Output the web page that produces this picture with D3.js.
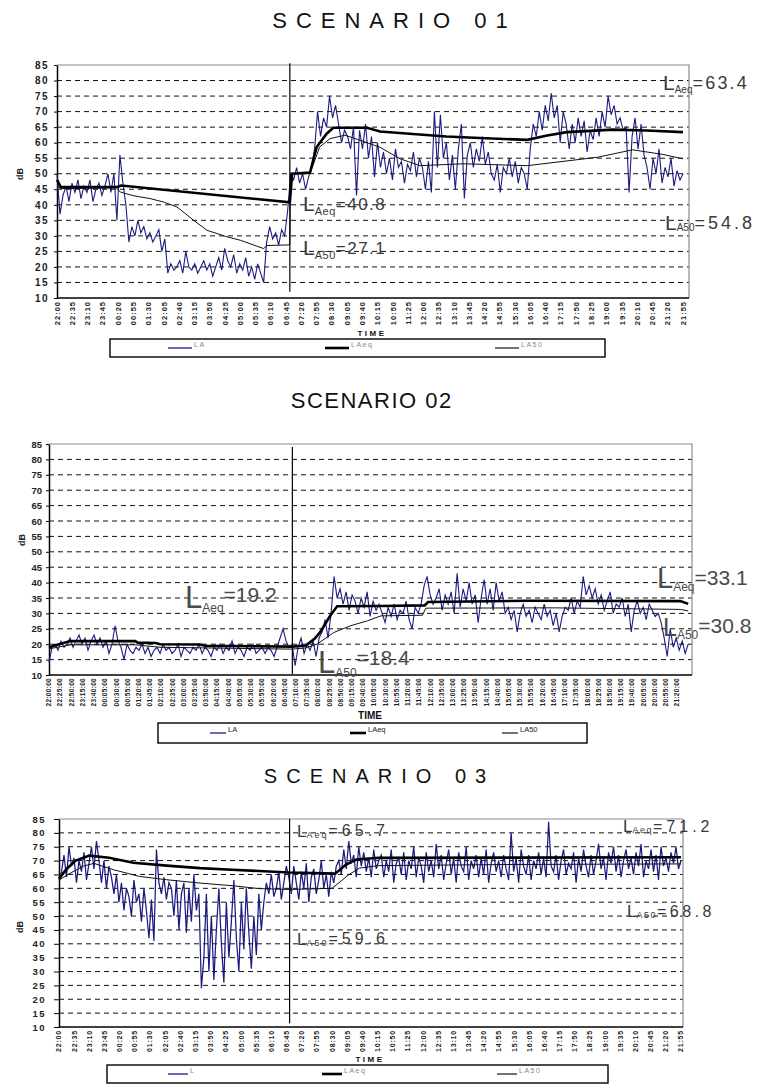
<!DOCTYPE html>
<html>
<head>
<meta charset="utf-8">
<script src="https://cdn.jsdelivr.net/npm/d3@7"></script>
<style>
  body { margin: 0; background: #fff; }
  svg { display: block; font-family: "Liberation Sans", Arial, sans-serif; }
</style>
</head>
<body>
<svg id="chart" width="761" height="1084"></svg>
<script>
// ---------------- data ----------------
const dbTicks = [10, 15, 20, 25, 30, 35, 40, 45, 50, 55, 60, 65, 70, 75, 80, 85];

// category labels (every 35 min) for scenarios 01 and 03
const clock35 = ["22:00","22:35","23:10","23:45","00:20","00:55","01:30","02:05","02:40","03:15",
  "03:50","04:25","05:00","05:35","06:10","06:45","07:20","07:55","08:30","09:05",
  "09:40","10:15","10:50","11:25","12:00","12:35","13:10","13:45","14:20","14:55",
  "15:30","16:05","16:40","17:15","17:50","18:25","19:00","19:35","20:10","20:45",
  "21:20","21:55"];

// category labels (every 25 min) for scenario 02
const clock25 = ["22:00:00","22:25:00","22:50:00","23:15:00","23:40:00","00:05:00","00:30:00","00:55:00",
  "01:20:00","01:45:00","02:10:00","02:35:00","03:00:00","03:25:00","03:50:00","04:15:00","04:40:00",
  "05:05:00","05:30:00","05:55:00","06:20:00","06:45:00","07:10:00","07:35:00","08:00:00","08:25:00",
  "08:50:00","09:15:00","09:40:00","10:05:00","10:30:00","10:55:00","11:20:00","11:45:00","12:10:00",
  "12:35:00","13:00:00","13:25:00","13:50:00","14:15:00","14:40:00","15:05:00","15:30:00","15:55:00",
  "16:20:00","16:45:00","17:10:00","17:35:00","18:00:00","18:25:00","18:50:00","19:15:00","19:40:00",
  "20:05:00","20:30:00","20:55:00","21:20:00"];

// period summary levels (dB)
const s1NightLaeq = 40.8, s1NightLa50 = 27.1, s1DayLaeq = 63.4, s1DayLa50 = 54.8;
const s2NightLaeq = 19.2, s2NightLa50 = 18.4, s2DayLaeq = 33.1, s2DayLa50 = 30.8;
const s3NightLaeq = 65.7, s3NightLa50 = 59.6, s3DayLaeq = 71.2, s3DayLa50 = 68.8;

// start of the day period, in label slots
const s1DayStart = 15.25, s2DayStart = 21.7, s3DayStart = 15.2;

// instantaneous LA, equally spaced samples
const s1La = [50,37,43,46,41,47,44,48,42,46,44,48,41,45,47,43,46,50,44,50,
  35,56,47,40,
  28,33,30,35,31,33,29,31,28,30,32,25,29,
  18,21,19,20,22,18,25,20,19,21,18,20,22,19,21,17,20,23,19,26,22,20,24,18,21,19,23,17,20,16,21,18,15,
  28,33,29,31,27,32,30,38,
  50,48,52,47,50,45,49,
  52,58,70,62,68,65,75,68,72,
  66,60,64,62,58,65,43,64,58,66,55,62,49,60,52,
  57,50,55,48,58,52,54,47,53,51,57,49,55,52,45,54,44,
  70,52,69,55,
  60,48,56,45,58,
  66,42,
  56,60,52,58,54,62,53,57,50,
  48,53,44,52,50,55,49,54,47,52,50,45,
  58,
  66,62,70,64,72,67,76,68,72,60,70,66,
  58,66,60,68,62,67,57,64,61,
  68,62,70,65,75,69,72,66,68,
  64,65,
  44,62,68,58,66,56,
  52,45,55,50,58,47,52,49,55,46,51,48,50];

const s2La = [14,19,
  20,18,21,19,20,22,19,21,23,20,22,18,21,23,20,22,19,21,17,20,
  26,21,
  19,15,20,18,17,19,18,20,17,19,16,18,19,17,20,18,19,17,18,20,16,19,18,17,19,18,20,17,19,18,
  16,19,18,20,17,19,18,21,17,19,18,16,19,18,20,17,18,19,17,19,18,16,19,22,25,21,
  19,20,13,19,22,17,20,18,21,16,22,
  24,28,22,30,42,35,
  38,33,37,31,36,34,30,35,32,37,29,34,31,33,
  30,27,32,29,33,28,31,30,34,28,25,32,30,33,
  39,42,36,33,
  35,38,31,36,33,37,30,43,
  32,38,34,40,33,36,27,
  35,41,33,38,31,40,34,37,30,
  32,28,31,24,30,33,29,31,27,32,30,28,33,29,31,26,30,24,29,32,
  31,35,30,34,32,
  42,36,39,35,
  38,33,36,31,34,37,30,33,32,35,29,33,24,31,34,30,32,28,33,31,29,30,
  27,22,16,25,
  19,22,18,21,17,20];

const s3La = [63,66,
  72,64,75,68,71,62,70,66,73,63,69,75,67,77,70,
  62,70,60,68,64,
  58,65,55,62,52,60,57,50,63,55,58,48,60,52,42,56,
  41,74,
  62,58,64,56,62,60,50,63,45,58,62,44,
  60,48,65,52,58,
  24,
  35,58,30,50,27,45,60,40,26,55,35,48,63,42,30,55,38,60,44,31,50,36,58,45,
  55,62,58,65,57,60,66,56,62,68,
  64,58,68,62,56,66,60,69,55,64,67,58,63,70,60,65,57,66,62,68,
  70,65,74,67,77,69,72,64,75,68,73,66,71,64,74,67,70,
  72,64,70,66,74,62,69,71,65,73,63,70,67,75,64,71,68,62,73,66,
  70,64,76,67,72,63,69,74,65,71,62,73,68,66,75,63,70,67,72,64,
  71,65,74,62,69,73,66,70,64,72,67,63,80,66,71,62,74,68,65,72,
  63,70,67,73,65,71,64,84,68,66,72,63,70,74,65,69,67,73,62,71,
  66,74,68,64,72,65,70,76,67,71,63,73,69,75,66,72,64,70,74,67,
  71,65,73,68,76,64,70,67,74,66,72,63,75,68,71,66,73,69,75,67,70];

// running LAeq and LA50 as [slot, dB]
const s1Laeq = [[0,48],[0.25,45.7],[4,45.8],[4.2,46.2],[15.25,s1NightLaeq],[15.4,50],[16.57,50.4],
  [17.0,58.5],[17.66,62.9],[18.1,64.8],[20.3,64.8],[21.16,63.6],[23.3,62.8],[25.5,62],[27.7,61.5],
  [30.8,60.9],[32.1,62.3],[33.4,63.4],[36.4,64.2],[38.6,63.9],[41,s1DayLaeq]];
const s1La50 = [[0,46],[0.3,45.2],[3.9,45.4],[4.15,44.1],[5.02,42.9],[6.1,42],[6.98,40.9],[7.86,39.3],
  [8.4,37.2],[8.95,35],[9.82,31.8],[11.13,29.7],[12.0,28.6],[13.53,25.9],[13.75,26.9],[15.25,s1NightLa50],
  [15.3,50],[16.57,50],[17.2,58.6],[17.88,61.3],[18.86,62.4],[20.2,60.2],[21.16,58.5],[22.47,54.8],
  [23.78,52.6],[26.6,53.2],[30.8,52.6],[35.4,55.3],[37.7,57.7],[39.7,56.2],[41,s1DayLa50]];

const s2Laeq = [[0,19],[0.5,19.6],[1.9,21],[7.7,21],[7.9,20.5],[9.5,20.4],[9.9,20],[13.5,19.9],[13.9,19.5],
  [21.7,s2NightLaeq],[22.9,19.6],[23.7,21.8],[24.2,24],[25.1,29.4],[25.7,32.3],[29.5,32.4],[33.5,32.6],
  [33.8,33.7],[42.7,34.1],[56.3,34],[57,s2DayLaeq]];
const s2La50 = [[0,18.5],[1.9,19.8],[7.7,19.8],[9.9,19],[21.7,s2NightLa50],[22.9,18.8],[23.9,20],[25.4,23.8],
  [26.9,26],[28.4,27.6],[29.6,29.2],[33.3,29.4],[33.6,31.7],[45,31.8],[56.3,31.3],[57,s2DayLa50]];

const s3Laeq = [[0,63.5],[0.5,67],[1.1,70],[2.0,71.8],[3.3,71],[4.9,69.2],[7.1,68.2],[9.3,67.3],[11.4,66.7],
  [15.2,s3NightLaeq],[18.2,65.3],[18.9,68.5],[19.6,70.4],[21.1,71],[41,s3DayLaeq]];
const s3La50 = [[0,63],[0.6,65],[1.6,68],[2.3,69],[3.6,66.7],[5.3,64.3],[7.1,63.1],[9.3,61.9],[11.5,60.9],
  [13.2,59.9],[15.2,s3NightLa50],[18.0,60],[19.1,64.9],[19.8,67.3],[21.1,68.2],[30,68.6],[41,s3DayLa50]];

// ---------------- layout ----------------
const svg = d3.select("#chart");
const LA_BLUE = "#1b1b82";

const panels = [
  { title: "SCENARIO 01", titleX: 390, titleY: 28, titleSize: 22, titleSpacing: 9,
    left: 57, right: 689, top: 65, bottom: 298, slotEndX: 683, labels: clock35,
    tickFont: 7.5, tickSpacing: 1, yFont: 10, ySpacing: 1.5, yTick: 3, yPad: 5,
    la: s1La, laSpan: 41, laWidth: 1.1, laeq: s1Laeq, la50: s1La50, dayStart: s1DayStart, divTop: 85.6, divBottom: 12,
    yLabel: [20, 174], time: { x: 372, y: 336, size: 8, sp: 2.5 },
    legend: { x: 110, y: 339, w: 495, h: 18, lineLen: 24, font: 7, sp: 1.5, color: "#888",
              items: [[168, "LA"], [325, "LAeq"], [495, "LA50"]] },
    notes: [
      { x: 303, y: 211, L: 21, s: 11, v: 17, subDy: 4, valDy: -5, subSp: 0.5, valSp: 1.5, color: "#3a3a3a", sub: "Aeq", val: s1NightLaeq },
      { x: 303, y: 255, L: 21, s: 11, v: 17, subDy: 4, valDy: -5, subSp: 0.5, valSp: 1.5, color: "#3a3a3a", sub: "A50", val: s1NightLa50 },
      { x: 663, y: 90, L: 21, s: 10, v: 18, subDy: 3, valDy: -4, subSp: 0, valSp: 2.2, color: "#3a3a3a", sub: "Aeq", val: s1DayLaeq },
      { x: 665, y: 230, L: 21, s: 10, v: 18, subDy: 1, valDy: -2, subSp: 0, valSp: 3, color: "#3a3a3a", sub: "A50", val: s1DayLa50 }
    ] },
  { title: "SCENARIO 02", titleX: 371, titleY: 408, titleSize: 22, titleSpacing: 1.5,
    left: 49, right: 692, top: 444, bottom: 675, slotEndX: 677, labels: clock25,
    tickFont: 6.5, tickSpacing: 0.3, yFont: 9.5, ySpacing: 0, yTick: 3, yPad: 4,
    la: s2La, laSpan: 57, laWidth: 1.1, laeq: s2Laeq, la50: s2La50, dayStart: s2DayStart, divTop: 84, divBottom: 10.3,
    yLabel: [22, 540], time: { x: 370, y: 719, size: 10, sp: 0 },
    legend: { x: 158, y: 723, w: 429, h: 20, lineLen: 16, font: 7.5, sp: 0, color: "#222",
              items: [[210, "LA"], [350, "LAeq"], [502, "LA50"]] },
    notes: [
      { x: 185, y: 608, L: 31, s: 12, v: 21, subDy: 4, valDy: -10, subSp: 0, valSp: 0, color: "#4a4a4a", sub: "Aeq", val: s2NightLaeq },
      { x: 318, y: 673, L: 31, s: 12, v: 21, subDy: 4, valDy: -12, subSp: 0, valSp: 0, color: "#4a4a4a", sub: "A50", val: s2NightLa50 },
      { x: 657, y: 588, L: 29, s: 12, v: 21, subDy: 3, valDy: -6, subSp: 0, valSp: 0, color: "#4a4a4a", sub: "Aeq", val: s2DayLaeq },
      { x: 663, y: 636, L: 25, s: 12, v: 21, subDy: 3, valDy: -6, subSp: 0, valSp: 0, color: "#4a4a4a", sub: "A50", val: s2DayLa50 }
    ] },
  { title: "SCENARIO 03", titleX: 375, titleY: 783, titleSize: 20, titleSpacing: 9,
    left: 59, right: 683, top: 819, bottom: 1027, slotEndX: 681, labels: clock35,
    tickFont: 7, tickSpacing: 0.8, yFont: 9.5, ySpacing: 1.5, yTick: 5, yPad: 8,
    la: s3La, laSpan: 41, laWidth: 1.25, laeq: s3Laeq, la50: s3La50, dayStart: s3DayStart, divTop: 85, divBottom: 11.3,
    yLabel: [20, 927], time: { x: 370, y: 1062, size: 8, sp: 2.5 },
    legend: { x: 107, y: 1065, w: 501, h: 18, lineLen: 20, font: 7, sp: 1.5, color: "#888",
              items: [[168, "L"], [322, "LAeq"], [497, "LA50"]] },
    notes: [
      { x: 297, y: 837, L: 17, s: 9, v: 16, subDy: 1, valDy: -2, subSp: 2, valSp: 4, color: "#3a3a3a", sub: "Aeq", val: s3NightLaeq },
      { x: 297, y: 945, L: 17, s: 9, v: 16, subDy: 1, valDy: -2, subSp: 2, valSp: 4, color: "#3a3a3a", sub: "A50", val: s3NightLa50 },
      { x: 623, y: 832, L: 17, s: 9, v: 16, subDy: 1, valDy: -1, subSp: 1.5, valSp: 4, color: "#3a3a3a", sub: "Aeq", val: s3DayLaeq },
      { x: 627, y: 917, L: 17, s: 9, v: 16, subDy: 1, valDy: -1, subSp: 1.5, valSp: 3.5, color: "#3a3a3a", sub: "A50", val: s3DayLa50 }
    ] }
];

function drawPanel(p) {
  const g = svg.append("g");
  const lastSlot = p.labels.length - 1;
  const x = d3.scaleLinear().domain([0, lastSlot]).range([p.left, p.slotEndX]);
  const y = d3.scaleLinear().domain([10, 85]).range([p.bottom, p.top]);

  // title (letter-spacing leaves a trailing gap, so shift by half of it)
  g.append("text")
    .attr("x", p.titleX + p.titleSpacing / 2).attr("y", p.titleY)
    .attr("text-anchor", "middle")
    .attr("font-size", p.titleSize)
    .style("letter-spacing", p.titleSpacing + "px")
    .attr("fill", "#111")
    .text(p.title);

  // dashed horizontal gridlines
  g.append("g").selectAll("line")
    .data(dbTicks.filter(v => v > 10 && v < 85))
    .join("line")
    .attr("x1", p.left).attr("x2", p.right)
    .attr("y1", d => y(d)).attr("y2", d => y(d))
    .attr("stroke", "#111").attr("stroke-width", 1)
    .attr("stroke-dasharray", "5,4");

  // top and right border of plot area
  g.append("path")
    .attr("d", `M${p.left},${p.top}H${p.right}V${p.bottom}`)
    .attr("fill", "none").attr("stroke", "#8c8c8c").attr("stroke-width", 1.2);

  // y axis
  const yAxis = g.append("g")
    .attr("transform", `translate(${p.left},0)`)
    .call(d3.axisLeft(y).tickValues(dbTicks).tickSize(p.yTick).tickSizeOuter(0).tickPadding(p.yPad));
  yAxis.select(".domain").attr("stroke", "#000").attr("stroke-width", 1.5);
  yAxis.selectAll(".tick line").attr("stroke", "#000");
  yAxis.selectAll(".tick text")
    .attr("font-family", "'Liberation Sans', Arial, sans-serif")
    .attr("font-size", p.yFont).attr("font-weight", "bold").attr("fill", "#222")
    .style("letter-spacing", p.ySpacing + "px");

  // x axis line
  g.append("line")
    .attr("x1", p.left).attr("x2", p.right)
    .attr("y1", p.bottom).attr("y2", p.bottom)
    .attr("stroke", "#000").attr("stroke-width", 1.5);

  // rotated category labels
  g.append("g").selectAll("text")
    .data(p.labels)
    .join("text")
    .attr("transform", (d, i) => `translate(${x(i)},${p.bottom + 3}) rotate(-90)`)
    .attr("dy", "0.35em")
    .attr("text-anchor", "end")
    .attr("font-size", p.tickFont).attr("font-weight", "bold").attr("fill", "#222")
    .style("letter-spacing", p.tickSpacing + "px")
    .text(d => d);

  // axis titles
  g.append("text")
    .attr("transform", `translate(${p.yLabel[0]},${p.yLabel[1]}) rotate(-90)`)
    .attr("text-anchor", "middle").attr("dy", "0.35em")
    .attr("font-size", 9).attr("font-weight", "bold").attr("fill", "#222")
    .text("dB");
  g.append("text")
    .attr("x", p.time.x).attr("y", p.time.y)
    .attr("text-anchor", "middle")
    .attr("font-size", p.time.size).attr("font-weight", "bold").attr("fill", "#111")
    .style("letter-spacing", p.time.sp + "px")
    .text("TIME");

  // series
  const line = d3.line().x(d => x(d[0])).y(d => y(d[1]));
  const laPts = p.la.map((v, i) => [i * p.laSpan / (p.la.length - 1), v]);
  g.append("path").datum(laPts).attr("d", line)
    .attr("fill", "none").attr("stroke", LA_BLUE).attr("stroke-width", p.laWidth)
    .attr("stroke-linejoin", "miter");
  g.append("path").datum(p.la50).attr("d", line)
    .attr("fill", "none").attr("stroke", "#111").attr("stroke-width", 1);
  g.append("path").datum(p.laeq).attr("d", line)
    .attr("fill", "none").attr("stroke", "#000").attr("stroke-width", 2.6);

  // night / day boundary
  g.append("line")
    .attr("x1", x(p.dayStart)).attr("x2", x(p.dayStart))
    .attr("y1", y(p.divTop)).attr("y2", y(p.divBottom))
    .attr("stroke", "#000").attr("stroke-width", 1.2);

  // level annotations
  p.notes.forEach(n => {
    const t = g.append("text")
      .attr("x", n.x).attr("y", n.y)
      .attr("fill", n.color);
    t.append("tspan").attr("font-size", n.L).text("L");
    t.append("tspan").attr("font-size", n.s).attr("dy", n.subDy)
      .style("letter-spacing", n.subSp + "px").text(n.sub);
    t.append("tspan").attr("font-size", n.v).attr("dy", n.valDy)
      .style("letter-spacing", n.valSp + "px").text("=" + n.val.toFixed(1));
  });

  // legend
  const L = p.legend;
  const lg = g.append("g");
  lg.append("rect")
    .attr("x", L.x).attr("y", L.y).attr("width", L.w).attr("height", L.h)
    .attr("fill", "#fff").attr("stroke", "#000").attr("stroke-width", 1.4);
  const styles = [[LA_BLUE, 1.3], ["#000", 2.6], ["#111", 1.2]];
  L.items.forEach(([lx, name], k) => {
    const cy = L.y + L.h / 2;
    lg.append("line")
      .attr("x1", lx).attr("x2", lx + L.lineLen)
      .attr("y1", cy).attr("y2", cy)
      .attr("stroke", styles[k][0]).attr("stroke-width", styles[k][1]);
    lg.append("text")
      .attr("x", lx + L.lineLen + 2).attr("y", cy - 1)
      .attr("font-size", L.font).attr("fill", L.color)
      .style("letter-spacing", L.sp + "px")
      .text(name);
  });
}

panels.forEach(drawPanel);
</script>
</body>
</html>
